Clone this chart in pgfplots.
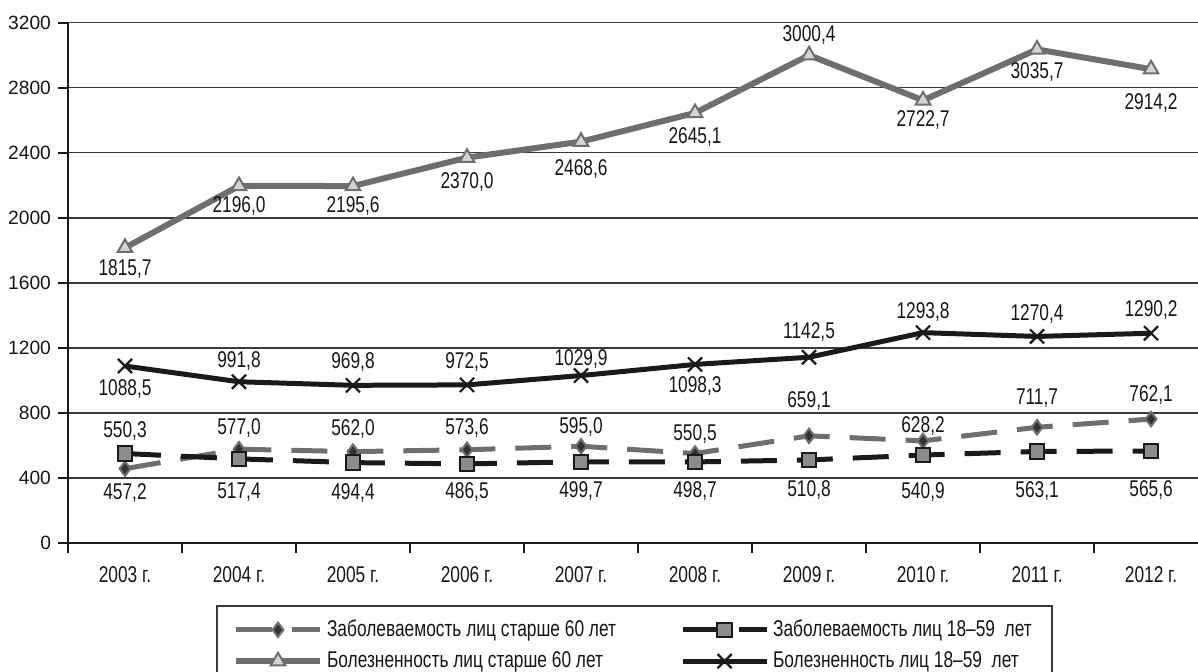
\documentclass[border=0pt]{standalone}
\usepackage{fontspec}
\setmainfont{Liberation Sans}[FakeStretch=0.76]
\newfontfamily\widefont{Liberation Sans}
\usepackage{pgfplots}
\pgfplotsset{compat=1.18}
\usepackage{pgfplotstable}

\definecolor{txt}{HTML}{161616}
\definecolor{linegray}{HTML}{6E6E6E}
\definecolor{trifill}{HTML}{D4D4D4}
\definecolor{sqfill}{HTML}{8C8C8C}
\definecolor{dmfill}{HTML}{333333}
\definecolor{gridc}{HTML}{3A3A3A}
\definecolor{blk}{HTML}{1A1A1A}

\newcommand\lblfont{\fontsize{11.4}{12.5}\selectfont}

% x: year index (0 = 2003), y: value, dy: label offset in pt (up > 0)
\pgfplotstableread{
x y dy
0 457.2 -12
1 577.0 10.5
2 562.0 11.5
3 573.6 11
4 595.0 9.5
5 550.5 10
6 659.1 17.5
7 628.2 7.5
8 711.7 14.5
9 762.1 12
}\zabOld

\pgfplotstableread{
x y dy
0 550.3 11.5
1 517.4 -16.5
2 494.4 -15
3 486.5 -14
4 499.7 -14.5
5 498.7 -14.5
6 510.8 -15
7 540.9 -18.5
8 563.1 -20
9 565.6 -19.5
}\zabAdult

\pgfplotstableread{
x y dy
0 1815.7 -10.5
1 2196.0 -10
2 2195.6 -10
3 2370.0 -12
4 2468.6 -13.5
5 2645.1 -12
6 3000.4 10
7 2722.7 -10
8 3035.7 -11.5
9 2914.2 -17
}\bolOld

\pgfplotstableread{
x y dy
0 1088.5 -11.5
1 991.8 10.5
2 969.8 11.5
3 972.5 11.5
4 1029.9 8.5
5 1098.3 -11
6 1142.5 12.5
7 1293.8 10.5
8 1270.4 11
9 1290.2 11.5
}\bolAdult

\pgfplotsset{
  vallabels/.style={
    point meta=\thisrow{y},
    visualization depends on={\thisrow{dy} \as \dy},
    nodes near coords={\pgfmathprintnumber[fixed,fixed zerofill,precision=1,use comma,1000 sep={},assume math mode=true]{\pgfplotspointmeta}},
    every node near coord/.append style={anchor=center, yshift=\dy pt, font=\lblfont, text=txt, inner sep=0pt},
  },
}

\begin{document}
\begin{tikzpicture}
\begin{axis}[
  scale only axis,
  width=565pt, height=260.15pt,
  xmin=-0.5, xmax=9.412, ymin=0, ymax=3200,
  clip=false,
  axis x line*=bottom, axis y line*=left,
  axis line style={line width=1pt, blk},
  ytick={0,400,...,3200},
  ymajorgrids,
  grid style={line width=0.7pt, gridc},
  xtick={-0.5,0.5,...,8.5}, xticklabels={},
  extra x ticks={0,1,2,3,4,5,6,7,8,9},
  extra x tick labels={2003 г.,2004 г.,2005 г.,2006 г.,2007 г.,2008 г.,2009 г.,2010 г.,2011 г.,2012 г.},
  extra x tick style={major tick length=0pt},
  tick align=outside,
  major tick length=5pt,
  tick style={line width=0.8pt, blk},
  yticklabel style={font=\widefont\fontsize{9.6}{11}\selectfont, text=txt,
    /pgf/number format/assume math mode=true, /pgf/number format/1000 sep={}},
  xticklabel style={font=\lblfont, text=txt, anchor=center, yshift=-16pt},
  legend columns=2,
  legend style={
    at={(axis description cs:0.131,-0.119)}, anchor=north west,
    draw=gridc, line width=1pt,
    font=\lblfont, text=txt,
    inner xsep=8pt, inner ysep=5pt,
    row sep=2pt,
    /tikz/every even column/.append style={column sep=30pt},
    cells={anchor=west},
  },
  legend image code/.code={
    \draw[mark repeat=2, mark phase=2] plot coordinates {(0pt,0pt) (21pt,0pt) (42pt,0pt)};
  },
]
\addplot[linegray, line width=2.5pt, dash pattern=on 18pt off 10pt,
  mark=diamond*, mark size=3.6pt,
  mark options={solid, fill=dmfill, draw=linegray, line width=1pt},
  vallabels] table[x=x, y=y] {\zabOld};
\addlegendentry{Заболеваемость лиц старше 60 лет}

\addplot[blk, line width=2.5pt, dash pattern=on 18pt off 10pt,
  mark=square*, mark size=3.6pt,
  mark options={solid, fill=sqfill, draw=blk, line width=1pt},
  vallabels] table[x=x, y=y] {\zabAdult};
\addlegendentry{Заболеваемость лиц 18--59\ \ лет}

\addplot[linegray, line width=3pt,
  mark=triangle*, mark size=4.2pt,
  mark options={solid, fill=trifill, draw=linegray, line width=1pt},
  vallabels] table[x=x, y=y] {\bolOld};
\addlegendentry{Болезненность лиц старше 60 лет}

\addplot[blk, line width=2.5pt,
  mark=x, mark size=5pt,
  mark options={solid, draw=blk, line width=1.1pt},
  vallabels] table[x=x, y=y] {\bolAdult};
\addlegendentry{Болезненность лиц 18--59\ \ лет}
\end{axis}
\pgfresetboundingbox
\path[use as bounding box] (-34pt,-64pt) rectangle (565pt,271.5pt);
\end{tikzpicture}
\end{document}
